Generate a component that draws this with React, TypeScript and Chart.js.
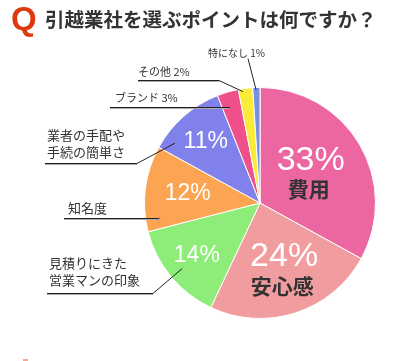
import React, { useEffect, useRef } from "react";
import { Chart, registerables } from "chart.js";

Chart.register(...registerables);

const categories = [
  "費用",
  "安心感",
  "見積りにきた営業マンの印象",
  "知名度",
  "業者の手配や手続の簡単さ",
  "ブランド",
  "その他",
  "特になし",
];
const values = [33, 24, 14, 12, 11, 3, 2, 1];
const colors = ["#EC67A1", "#F19D9F", "#8EEC78", "#FBA552", "#8181EB", "#F0508A", "#FAEB36", "#7890E0"];
const titleText = "引越業社を選ぶポイントは何ですか？";

const JP = '"Noto Sans CJK JP", "Noto Sans", sans-serif';
const LAT = '"Liberation Sans", Arial, sans-serif';

// inner labels: index -> radius fraction, font size, name shown
const inner = [
  { i: 0, rf: 0.49, size: 34, name: "費用" },
  { i: 1, rf: 0.62, size: 34, name: "安心感" },
  { i: 2, rf: 0.71, size: 23, name: "" },
  { i: 3, rf: 0.63, size: 23, name: "" },
  { i: 4, rf: 0.71, size: 23, name: "" },
];

// outer labels with leaders
const outer = [
  { i: 7, lines: ["特になし 1%"], size: 10, tx: 208, ty: 53, ux0: 248, ux1: 248, uy: 58, t: 0.45, rf: 0.98, under: false },
  { i: 6, lines: ["その他 2%"], size: 11, tx: 138, ty: 72, ux0: 138, ux1: 219, uy: 80, t: 0.3, rf: 0.975, under: true },
  { i: 5, lines: ["ブランド 3%"], size: 11, tx: 115, ty: 98, ux0: 110, ux1: 230, uy: 107, t: 0.39, rf: 0.87, under: true },
  { i: 4, lines: ["業者の手配や", "手続の簡単さ"], size: 13, tx: 47, ty: 135, ux0: 45, ux1: 137, uy: 163, t: 0.16, rf: 0.9, under: true },
  { i: 3, lines: ["知名度"], size: 13, tx: 68, ty: 208, ux0: 64, ux1: 159, uy: 218, t: 0.14, rf: 0.88, under: true },
  { i: 2, lines: ["見積りにきた", "営業マンの印象"], size: 13, tx: 49, ty: 263, ux0: 47, ux1: 153, uy: 293, t: 0.49, rf: 0.88, under: true },
];

const labelPlugin = {
  id: "labels",
  afterDatasetsDraw(chart: any) {
    const ctx = chart.ctx as CanvasRenderingContext2D;
    const meta = chart.getDatasetMeta(0);
    ctx.save();

    // title
    ctx.textBaseline = "alphabetic";
    ctx.textAlign = "left";
    ctx.fillStyle = "#DD3A12";
    ctx.font = `bold 33px ${LAT}`;
    ctx.fillText("Q", 11, 30);
    ctx.fillStyle = "#333333";
    ctx.font = `bold 19.5px ${JP}`;
    ctx.fillText(titleText, 45, 27);

    // inner labels
    inner.forEach((l) => {
      const a = meta.data[l.i] as any;
      const mid = (a.startAngle + a.endAngle) / 2;
      const r = a.outerRadius * l.rf;
      const cx = a.x + Math.cos(mid) * r;
      const cy = a.y + Math.sin(mid) * r;
      ctx.textAlign = "center";
      ctx.textBaseline = "middle";
      const pct = values[l.i] + "%";
      if (l.name) {
        ctx.fillStyle = "#FFFFFF";
        ctx.font = `${l.size}px ${LAT}`;
        ctx.fillText(pct, cx + 2, cy - 14);
        ctx.fillStyle = "#333333";
        ctx.font = `bold 21px ${JP}`;
        ctx.fillText(l.name, cx, cy + 15);
      } else {
        ctx.fillStyle = "#FFFFFF";
        ctx.font = `${l.size}px ${LAT}`;
        ctx.fillText(pct, cx, cy);
      }
    });

    // outer labels and leaders
    outer.forEach((l) => {
      const a = meta.data[l.i] as any;
      const ang = a.startAngle + (a.endAngle - a.startAngle) * l.t;
      const r = a.outerRadius * l.rf;
      const ax = a.x + Math.cos(ang) * r;
      const ay = a.y + Math.sin(ang) * r;
      ctx.textAlign = "left";
      ctx.textBaseline = "middle";
      ctx.fillStyle = "#333333";
      ctx.font = `${l.size}px ${JP}`;
      l.lines.forEach((s, k) => ctx.fillText(s, l.tx, l.ty + k * 17));

      ctx.lineWidth = 1;
      if (l.under) {
        ctx.strokeStyle = "#AAAAAA";
        ctx.beginPath();
        ctx.moveTo(l.ux0, l.uy + 1.5);
        ctx.lineTo(l.ux1, l.uy + 1.5);
        ctx.stroke();
      }
      ctx.strokeStyle = "#222222";
      ctx.beginPath();
      ctx.moveTo(l.ux0, l.uy + 0.5);
      ctx.lineTo(l.ux1, l.uy + 0.5);
      ctx.lineTo(ax, ay);
      ctx.stroke();
    });

    // small decoration at the bottom edge
    ctx.fillStyle = "#F6AA8C";
    ctx.fillRect(23, 359, 5, 2);
    ctx.restore();
  },
};

export default function App() {
  const ref = useRef<HTMLCanvasElement | null>(null);
  useEffect(() => {
    if (!ref.current) return;
    const chart = new Chart(ref.current, {
      type: "pie",
      data: {
        labels: categories,
        datasets: [
          {
            data: values,
            backgroundColor: colors,
            borderColor: "#FFFFFF",
            borderWidth: 1,
          },
        ],
      },
      options: {
        responsive: false,
        animation: false,
        layout: { padding: { left: 144, right: 28, top: 87, bottom: 42 } },
        plugins: { legend: { display: false }, tooltip: { enabled: false } },
      },
      plugins: [labelPlugin],
    });
    return () => chart.destroy();
  }, []);
  return (
    <div style={{ position: "absolute", left: 0, top: 0, width: 404, height: 361, background: "#fff" }}>
      <canvas ref={ref} width={404} height={361} />
    </div>
  );
}
